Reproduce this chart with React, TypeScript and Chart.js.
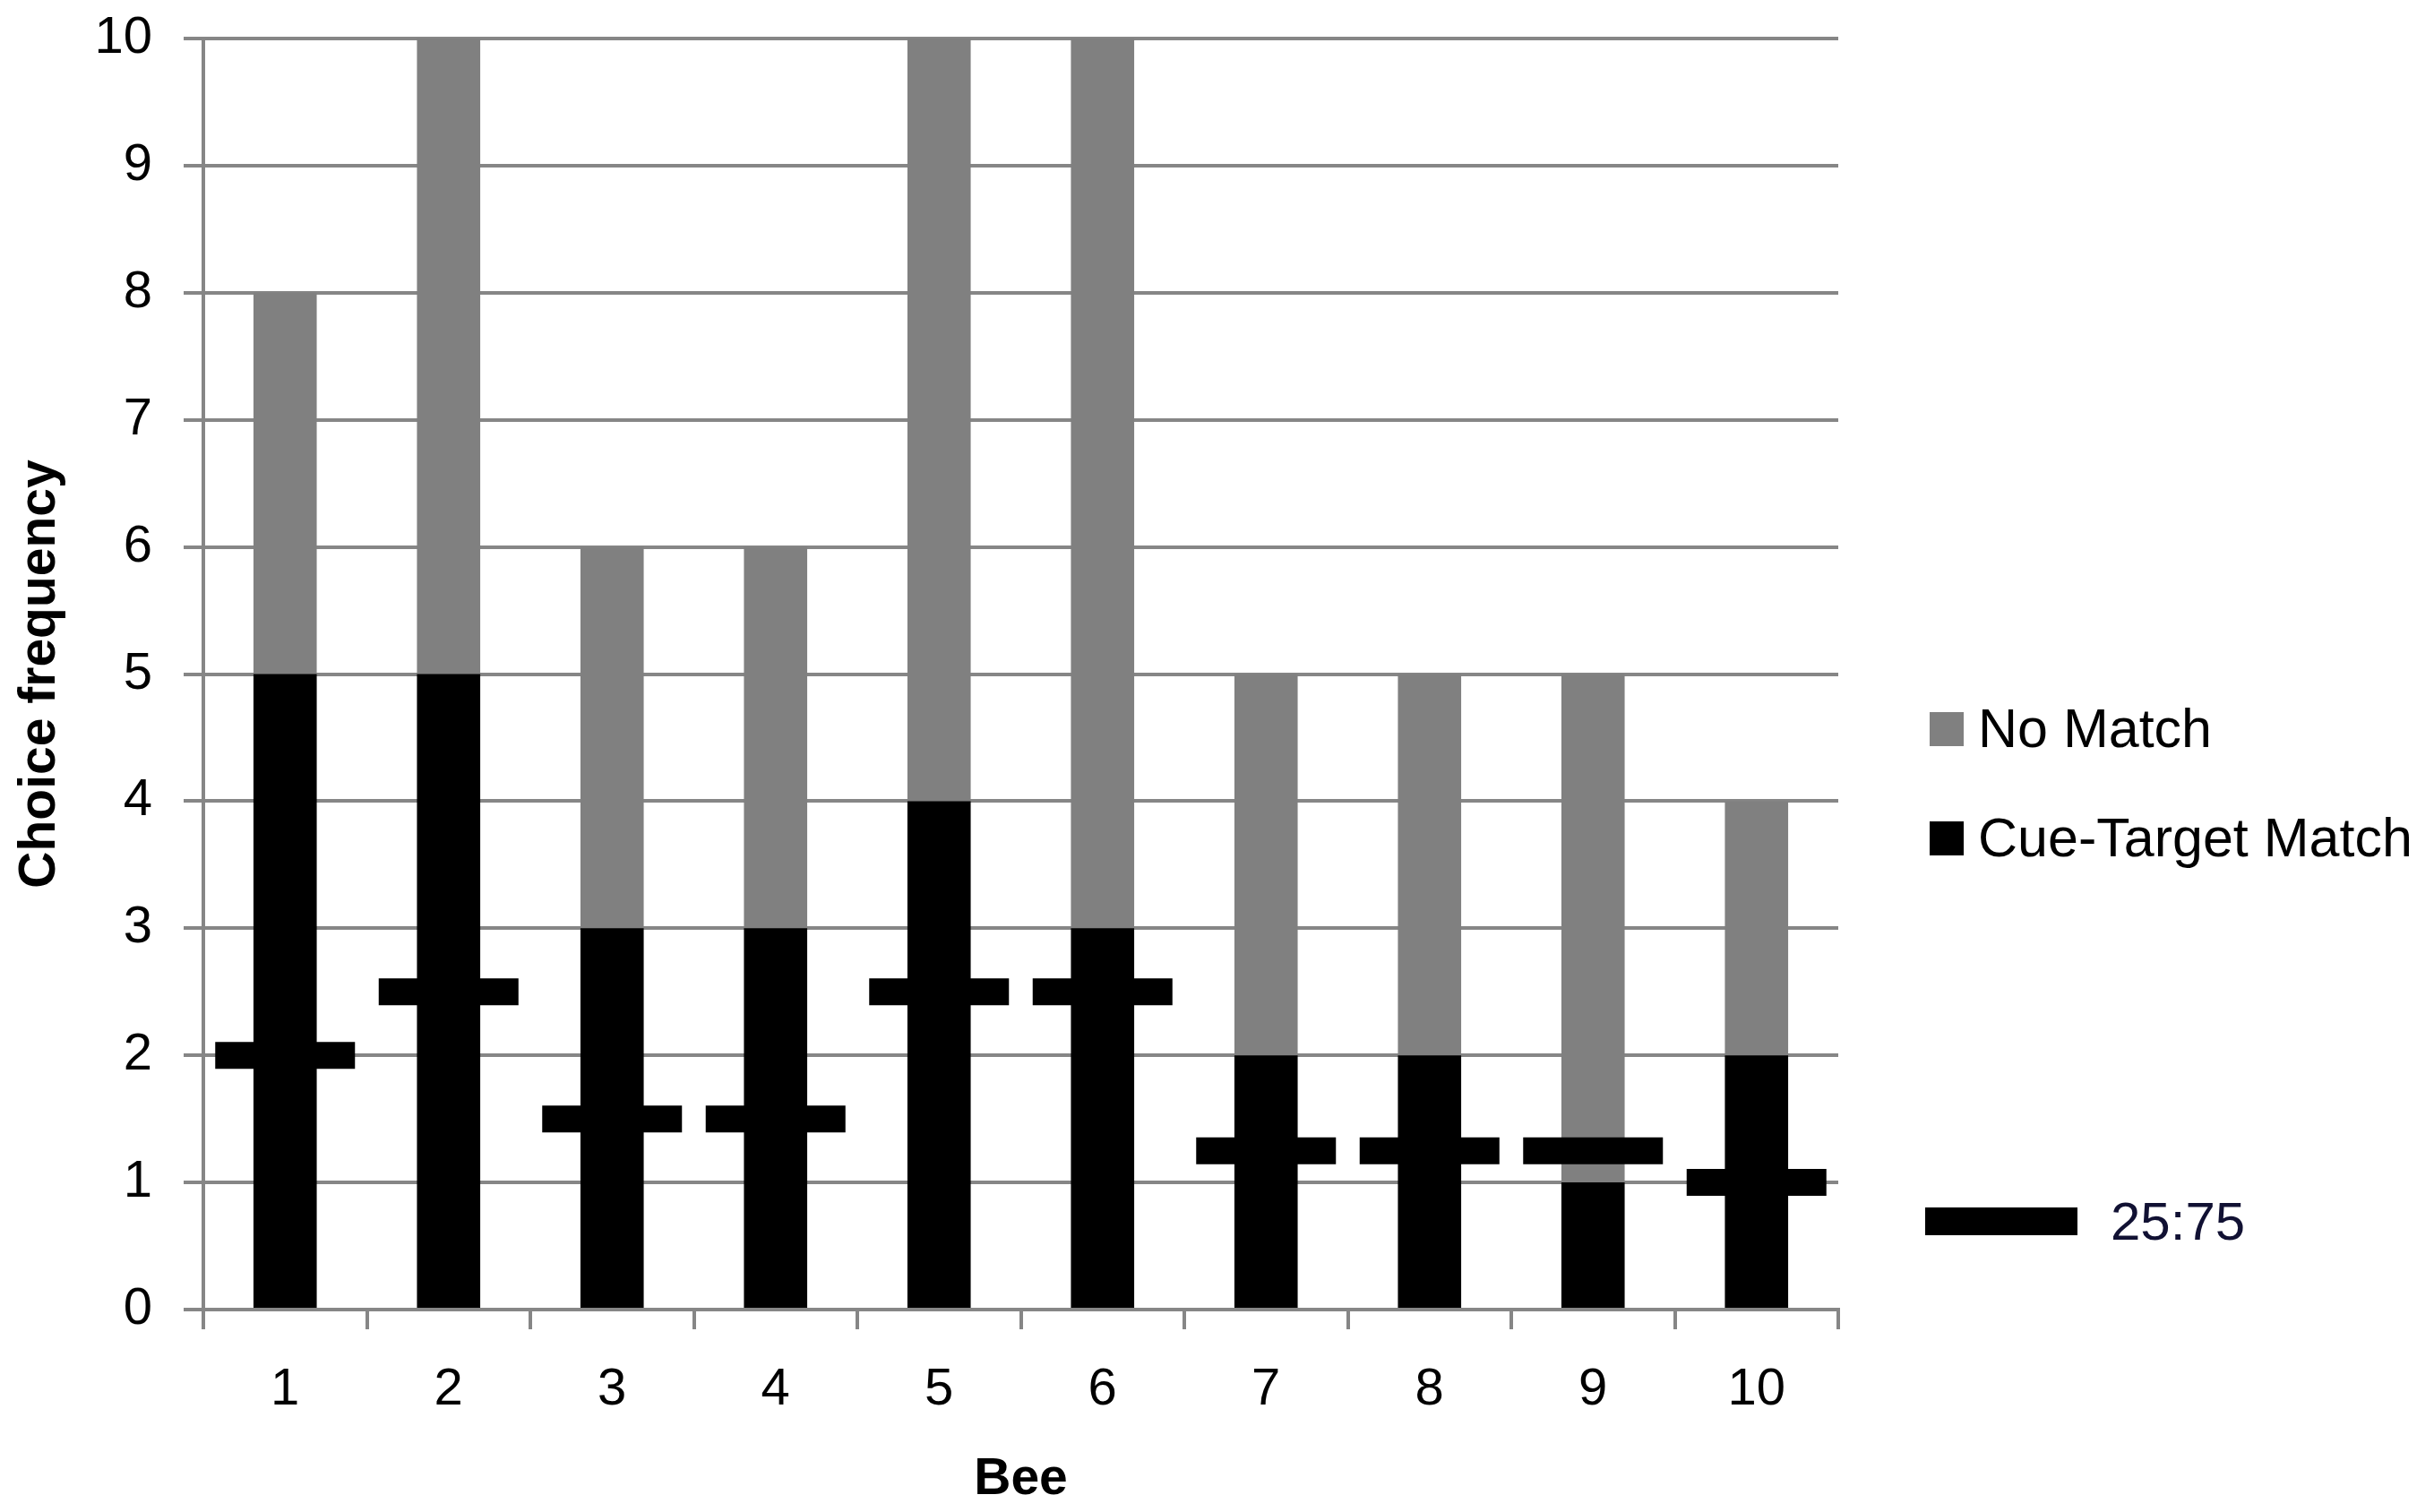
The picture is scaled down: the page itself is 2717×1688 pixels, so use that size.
import React, { useEffect, useRef } from "react";
import { Chart, registerables } from "chart.js";

Chart.register(...registerables);

// ---- data ----
const bees = ["1", "2", "3", "4", "5", "6", "7", "8", "9", "10"];
const cueTargetMatch = [5, 5, 3, 3, 4, 3, 2, 2, 1, 2];
const noMatch = [3, 5, 3, 3, 6, 7, 3, 3, 4, 2];
const chance2575 = [2, 2.5, 1.5, 1.5, 2.5, 2.5, 1.25, 1.25, 1.25, 1];
const seriesNames = ["No Match", "Cue-Target Match", "25:75"];
const xTitle = "Bee";
const yTitle = "Choice frequency";

const FONT = "'Liberation Sans', Arial, sans-serif";
const GRID = "#868686";
const W = 2717;
const H = 1688;

export default function App() {
  const ref = useRef<HTMLCanvasElement | null>(null);

  useEffect(() => {
    if (!ref.current) return;
    const chart = new Chart(ref.current, {
      type: "bar",
      data: {
        labels: bees,
        datasets: [
          {
            type: "line",
            label: seriesNames[2],
            data: chance2575,
            showLine: false,
            pointStyle: "line",
            pointRadius: 78,
            pointHoverRadius: 78,
            pointBorderWidth: 30,
            pointHoverBorderWidth: 30,
            pointBorderColor: "#000000",
            pointBackgroundColor: "#000000",
            borderColor: "#000000",
            stack: "marker",
            order: 0,
          } as any,
          {
            label: seriesNames[1],
            data: cueTargetMatch,
            backgroundColor: "#000000",
            borderWidth: 0,
            stack: "s",
            order: 1,
            categoryPercentage: 1,
            barPercentage: 0.387,
          },
          {
            label: seriesNames[0],
            data: noMatch,
            backgroundColor: "#808080",
            borderWidth: 0,
            stack: "s",
            order: 1,
            categoryPercentage: 1,
            barPercentage: 0.387,
          },
        ],
      },
      options: {
        responsive: true,
        maintainAspectRatio: false,
        animation: false,
        layout: { autoPadding: false, padding: { left: 0, top: 43, right: W - 2052, bottom: 0 } },
        plugins: {
          legend: { display: false },
          tooltip: { enabled: false },
        },
        scales: {
          x: {
            stacked: true,
            offset: true,
            grid: {
              display: true,
              offset: true,
              drawOnChartArea: false,
              drawTicks: true,
              tickLength: 22,
              color: GRID,
              lineWidth: 4,
            },
            border: { display: true, color: GRID, width: 4 },
            ticks: {
              color: "#000000",
              font: { family: FONT, size: 58 },
              padding: 33,
              maxRotation: 0,
            },
            title: {
              display: true,
              text: xTitle,
              color: "#000000",
              font: { family: FONT, size: 57, weight: "bold" },
              padding: { top: 0, bottom: 2 },
            },
            afterFit: (scale: any) => {
              scale.height = H - 1462;
              scale.paddingLeft = 0;
              scale.paddingRight = 0;
            },
          },
          y: {
            stacked: true,
            min: 0,
            max: 10,
            ticks: {
              stepSize: 1,
              color: "#000000",
              font: { family: FONT, size: 58 },
              padding: 35,
            },
            grid: {
              color: GRID,
              lineWidth: 4,
              drawTicks: true,
              tickLength: 22,
            },
            border: { display: true, color: GRID, width: 4 },
            title: {
              display: true,
              text: yTitle,
              color: "#000000",
              font: { family: FONT, size: 57, weight: "bold" },
              padding: { top: 11, bottom: 0 },
            },
            afterFit: (scale: any) => {
              scale.width = 227;
              scale.paddingTop = 0;
              scale.paddingBottom = 0;
            },
          },
        },
      },
    });
    return () => chart.destroy();
  }, []);

  const legendText: React.CSSProperties = {
    position: "absolute",
    fontFamily: FONT,
    fontSize: 61,
    lineHeight: "61px",
    color: "#000000",
    whiteSpace: "nowrap",
    margin: 0,
  };

  return (
    <div
      style={{
        position: "fixed",
        left: 0,
        top: 0,
        width: W,
        height: H,
        background: "#ffffff",
        overflow: "hidden",
      }}
    >
      <canvas ref={ref} />
      <div style={{ position: "absolute", left: 2154, top: 795, width: 38, height: 38, background: "#808080" }} />
      <div style={{ ...legendText, left: 2208, top: 783 }}>{seriesNames[0]}</div>
      <div style={{ position: "absolute", left: 2154, top: 917, width: 38, height: 38, background: "#000000" }} />
      <div style={{ ...legendText, left: 2208, top: 905 }}>{seriesNames[1]}</div>
      <div style={{ position: "absolute", left: 2149, top: 1348, width: 170, height: 31, background: "#000000" }} />
      <div style={{ ...legendText, fontSize: 60, lineHeight: "60px", left: 2356, top: 1334, color: "#111133" }}>
        {seriesNames[2]}
      </div>
    </div>
  );
}
